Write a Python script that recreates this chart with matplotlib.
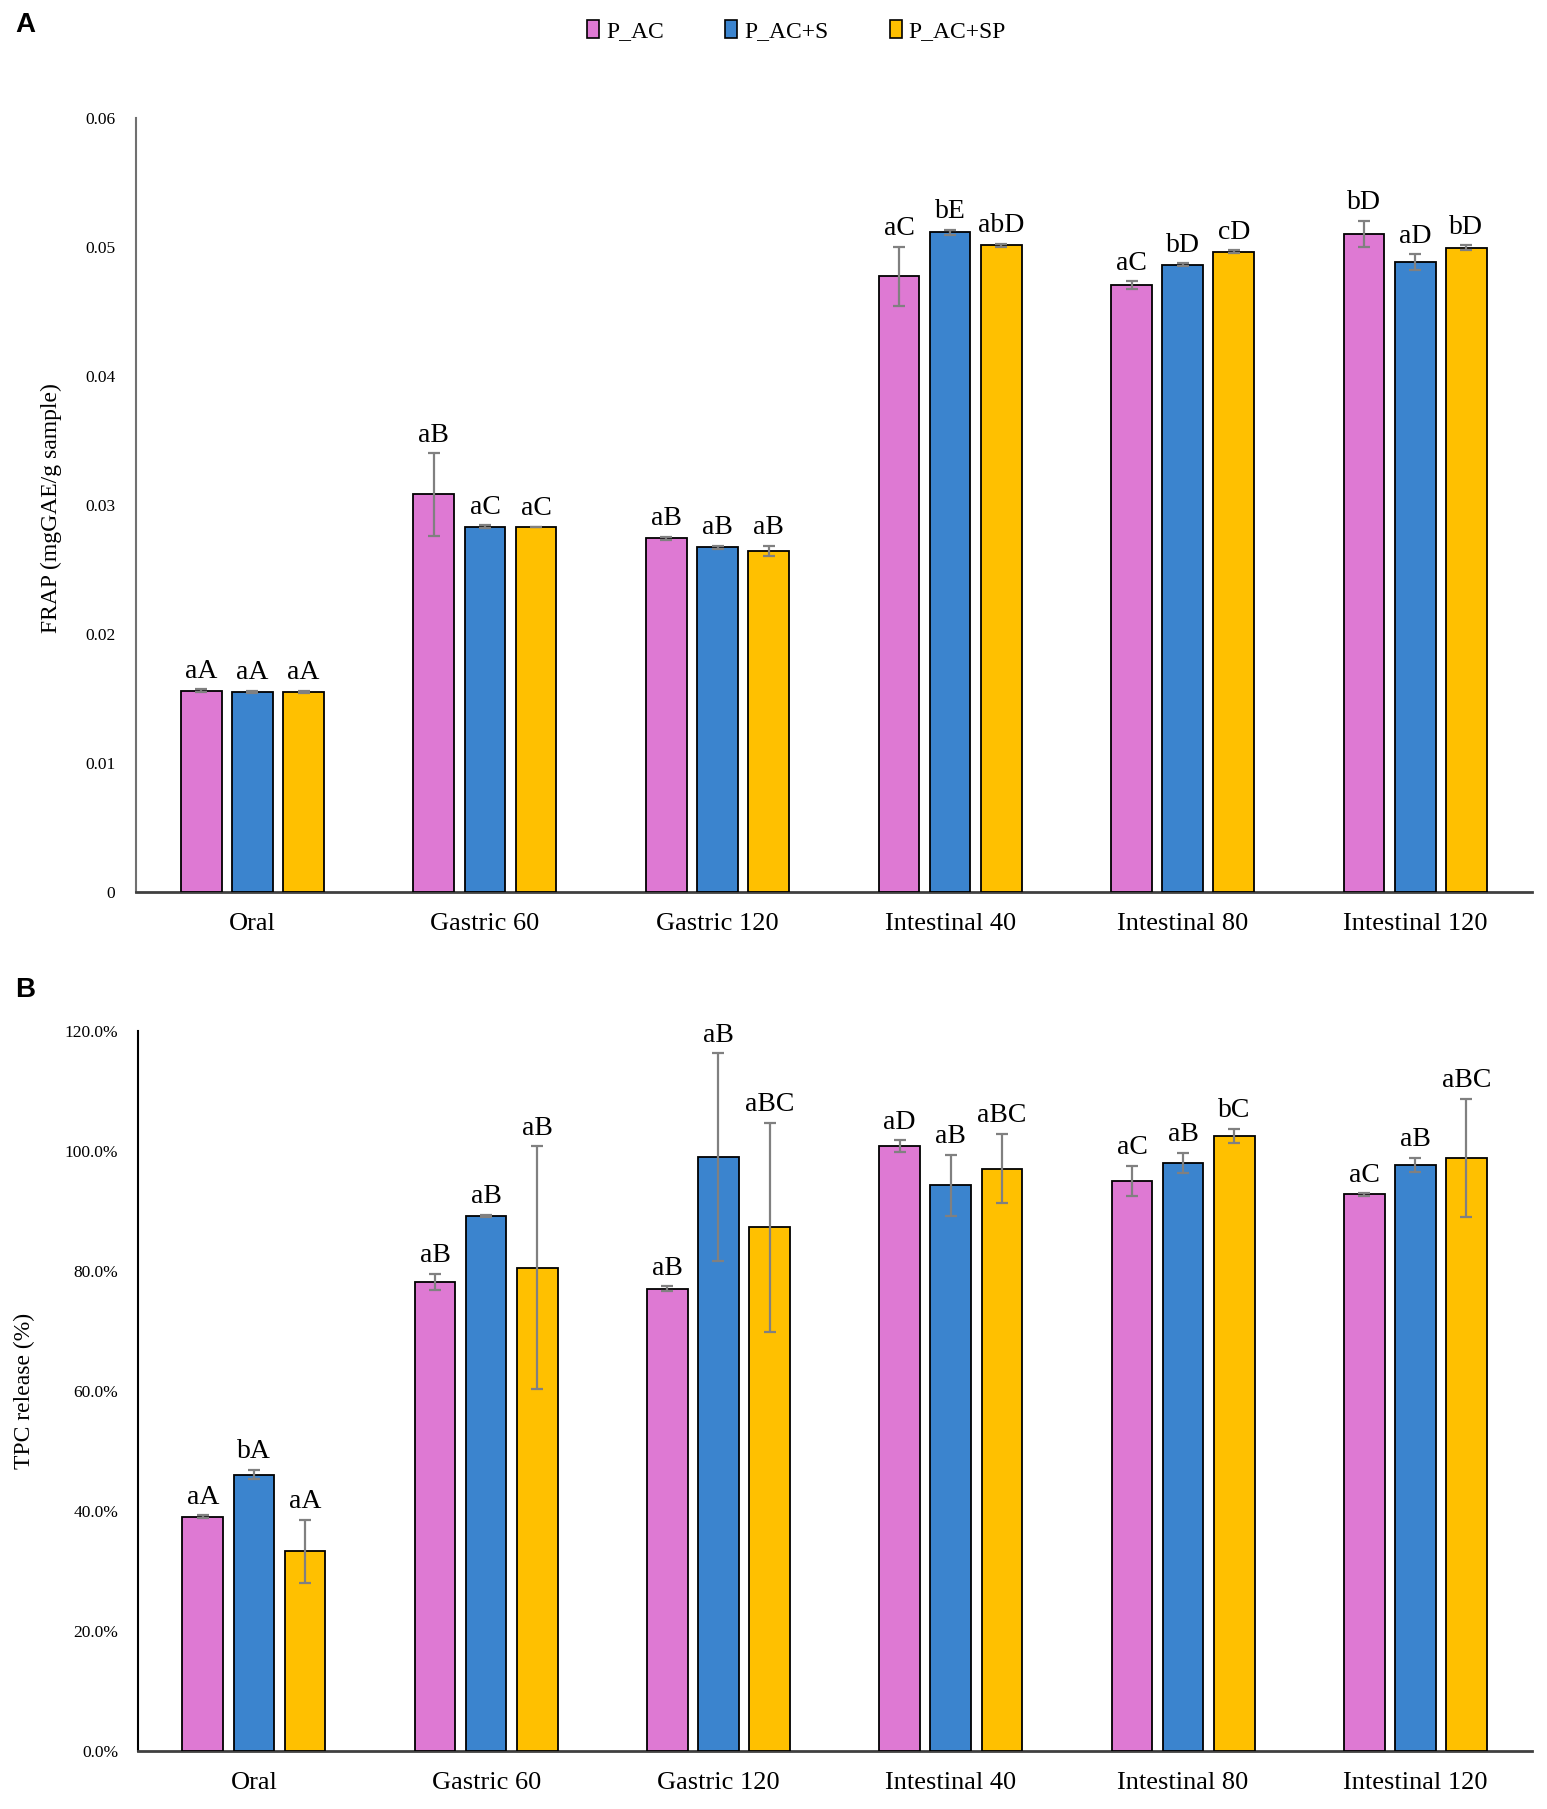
"""
FRAP and TPC release during simulated digestion - two stacked bar panels.
"""
import numpy as np
import matplotlib
matplotlib.use('Agg')
import matplotlib.pyplot as plt
from matplotlib.patches import Patch

# === Colours ===
PINK   = '#DE79D3'
BLUE   = '#3B84CE'
YELLOW = '#FFC000'
ERR    = '#808080'

# === Data ===
stages = ['Oral', 'Gastric 60', 'Gastric 120', 'Intestinal 40', 'Intestinal 80', 'Intestinal 120']
series = ['P_AC', 'P_AC+S', 'P_AC+SP']

# Panel A: FRAP (mgGAE/g sample)
frap_ac    = [0.0156, 0.0308, 0.0274, 0.0477, 0.0470, 0.0510]
frap_acs   = [0.0155, 0.0283, 0.0267, 0.0511, 0.0486, 0.0488]
frap_acsp  = [0.0155, 0.0283, 0.0264, 0.0501, 0.0496, 0.0499]
frap_ac_err   = [0.0001, 0.0032, 0.0001, 0.0023, 0.0003, 0.0010]
frap_acs_err  = [0.0001, 0.0001, 0.0001, 0.0002, 0.0001, 0.0006]
frap_acsp_err = [0.0001, 0.0000, 0.0004, 0.0001, 0.0001, 0.0002]
frap_ac_lbl   = ['aA', 'aB', 'aB', 'aC', 'aC', 'bD']
frap_acs_lbl  = ['aA', 'aC', 'aB', 'bE', 'bD', 'aD']
frap_acsp_lbl = ['aA', 'aC', 'aB', 'abD', 'cD', 'bD']

# Panel B: TPC release (%)
tpc_ac    = [39.1, 78.2, 77.1, 100.8, 95.1, 92.8]
tpc_acs   = [46.1, 89.2, 99.0, 94.3, 98.0, 97.7]
tpc_acsp  = [33.3, 80.6, 87.3, 97.1, 102.5, 98.9]
tpc_ac_err   = [0.2, 1.4, 0.4, 1.0, 2.5, 0.2]
tpc_acs_err  = [0.8, 0.2, 17.3, 5.1, 1.7, 1.2]
tpc_acsp_err = [5.3, 20.2, 17.4, 5.8, 1.2, 9.8]
tpc_ac_lbl   = ['aA', 'aB', 'aB', 'aD', 'aC', 'aC']
tpc_acs_lbl  = ['bA', 'aB', 'aB', 'aB', 'aB', 'aB']
tpc_acsp_lbl = ['aA', 'aB', 'aBC', 'aBC', 'bC', 'aBC']

plt.rcParams.update({
    'font.family': ['Liberation Serif', 'DejaVu Serif'],
    'font.size': 12,
    'figure.facecolor': 'white',
    'axes.facecolor': 'white',
})

fig = plt.figure(figsize=(15.47, 18.09), dpi=100)
axA = fig.add_axes([0.088, 0.507, 0.902, 0.428])
axB = fig.add_axes([0.089, 0.032, 0.901, 0.398])

x = np.arange(len(stages))
offset = 0.22
width = 0.175
colors = [PINK, BLUE, YELLOW]


def draw_panel(ax, vals, errs, lbls, ylim, yticks, ytick_labels, pad_pts):
    for i, (v, e, lb, c) in enumerate(zip(vals, errs, lbls, colors)):
        xs = x + (i - 1) * offset
        ax.bar(xs, v, width, color=c, edgecolor='black', linewidth=1.3,
               yerr=e, error_kw=dict(ecolor=ERR, elinewidth=1.6, capsize=4,
                                     capthick=1.6), zorder=3)
        for xi, vi, ei, t in zip(xs, v, e, lb):
            ax.annotate(t, (xi, vi + ei), xytext=(0, 4), textcoords='offset points',
                        ha='center', va='bottom', fontsize=20)
    ax.set_xlim(-0.5, len(stages) - 0.5)
    ax.set_ylim(*ylim)
    ax.set_yticks(yticks)
    ax.set_yticklabels(ytick_labels, fontsize=12.5)
    ax.set_xticks(x)
    ax.set_xticklabels(stages, fontsize=19)
    ax.tick_params(axis='both', length=0)
    ax.tick_params(axis='y', pad=pad_pts)
    ax.tick_params(axis='x', pad=15)
    ax.spines['top'].set_visible(False)
    ax.spines['right'].set_visible(False)
    ax.spines['left'].set_color('#707070')
    ax.spines['left'].set_linewidth(1.5)
    ax.spines['bottom'].set_color('#404040')
    ax.spines['bottom'].set_linewidth(2.0)


# ── Panel A ──
draw_panel(axA,
           [frap_ac, frap_acs, frap_acsp],
           [frap_ac_err, frap_acs_err, frap_acsp_err],
           [frap_ac_lbl, frap_acs_lbl, frap_acsp_lbl],
           (0, 0.06),
           [0, 0.01, 0.02, 0.03, 0.04, 0.05, 0.06],
           ['0', '0.01', '0.02', '0.03', '0.04', '0.05', '0.06'],
           15)
fig.text(0.033, 0.719, 'FRAP (mgGAE/g sample)', rotation=90,
         ha='center', va='center', fontsize=17)

# ── Panel B ──
draw_panel(axB,
           [tpc_ac, tpc_acs, tpc_acsp],
           [tpc_ac_err, tpc_acs_err, tpc_acsp_err],
           [tpc_ac_lbl, tpc_acs_lbl, tpc_acsp_lbl],
           (0, 120),
           [0, 20, 40, 60, 80, 100, 120],
           ['0.0%', '20.0%', '40.0%', '60.0%', '80.0%', '100.0%', '120.0%'],
           14)
axB.spines['left'].set_color('black')
fig.text(0.016, 0.231, 'TPC release (%)', rotation=90,
         ha='center', va='center', fontsize=17)

# ── Panel letters ──
fig.text(0.010, 0.986, 'A', fontsize=20, fontweight='bold',
         family='Liberation Sans', ha='left', va='center')
fig.text(0.010, 0.453, 'B', fontsize=20, fontweight='bold',
         family='Liberation Sans', ha='left', va='center')

# ── Legend ──
handles = [Patch(facecolor=c, edgecolor='black', linewidth=1.2, label=s)
           for c, s in zip(colors, series)]
fig.legend(handles=handles, loc='center', bbox_to_anchor=(0.515, 0.983), ncol=3,
           frameon=False, fontsize=17, handlelength=0.5, handleheight=0.8,
           handletextpad=0.3, columnspacing=2.6)

fig.savefig('out.png', dpi=100, facecolor='white')
